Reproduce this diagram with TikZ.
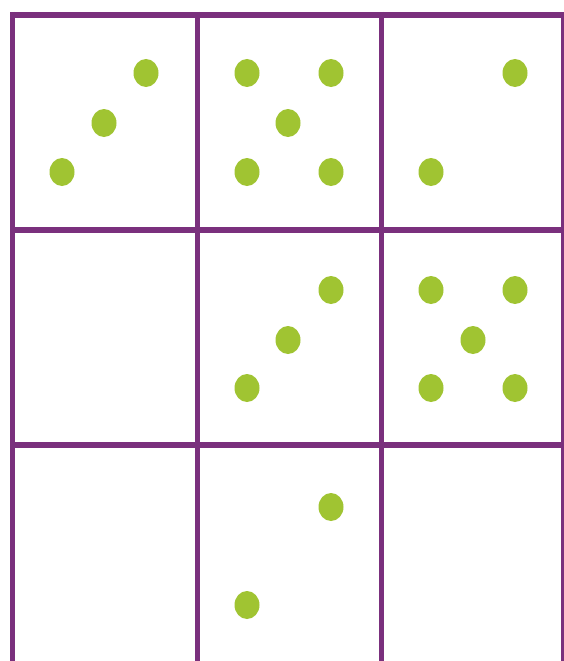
\documentclass[tikz,border=0pt]{standalone}
\definecolor{gridpurple}{RGB}{122,48,125}
\definecolor{dotgreen}{RGB}{160,196,50}
\tikzset{
  gridline/.style={draw=gridpurple, line width=5.5pt},
  dot/.style={ellipse, fill=dotgreen, minimum width=25pt, minimum height=28pt, inner sep=0pt}
}
\usetikzlibrary{shapes.geometric}
\begin{document}
\begin{tikzpicture}[x=1pt,y=-1pt]
\useasboundingbox (0,0) rectangle (563,661);
\fill[white] (0,0) rectangle (563,661);
% grid
\draw[gridline] (10,15) -- (570,15);
\draw[gridline] (10,230) -- (570,230);
\draw[gridline] (10,445) -- (570,445);
\draw[gridline] (12.5,12) -- (12.5,670);
\draw[gridline] (197.5,12) -- (197.5,670);
\draw[gridline] (381.5,12) -- (381.5,670);
\draw[gridline] (564,12) -- (564,670);
% row 1
\node[dot] (a1) at (146,73) {};
\node[dot] (a2) at (104,123) {};
\node[dot] (a3) at (62,172) {};
\node[dot] (b1) at (247,73) {};
\node[dot] (b2) at (331,73) {};
\node[dot] (b3) at (288,123) {};
\node[dot] (b4) at (247,172) {};
\node[dot] (b5) at (331,172) {};
\node[dot] (c1) at (515,73) {};
\node[dot] (c2) at (431,172) {};
% row 2
\node[dot] (e1) at (331,290) {};
\node[dot] (e2) at (288,340) {};
\node[dot] (e3) at (247,388) {};
\node[dot] (f1) at (431,290) {};
\node[dot] (f2) at (515,290) {};
\node[dot] (f3) at (473,340) {};
\node[dot] (f4) at (431,388) {};
\node[dot] (f5) at (515,388) {};
% row 3
\node[dot] (h1) at (331,507) {};
\node[dot] (h2) at (247,605) {};
\end{tikzpicture}
\end{document}
